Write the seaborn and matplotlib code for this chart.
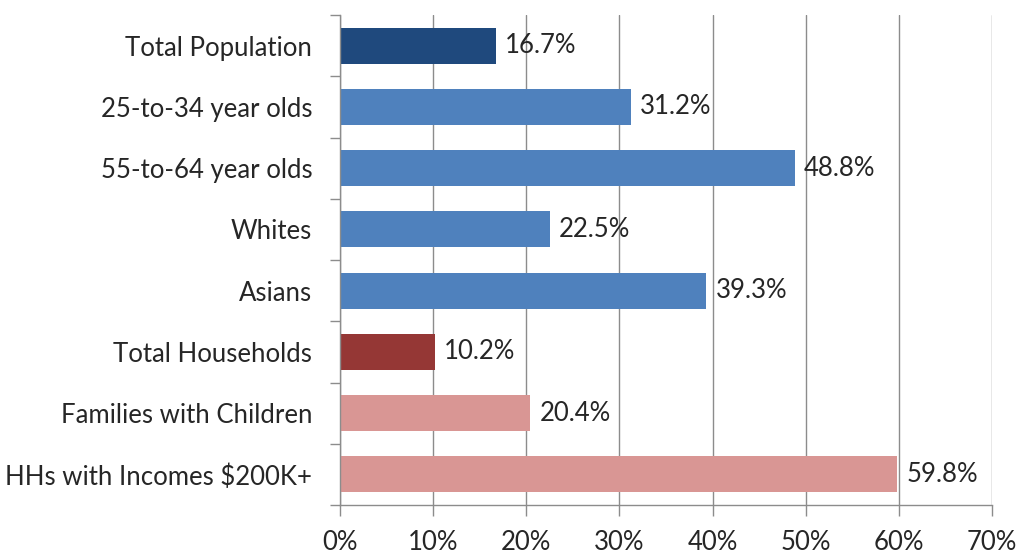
import numpy as np
import pandas as pd
import seaborn as sns
from matplotlib import pyplot as plt
from matplotlib.ticker import FixedLocator

# data
categories = ['Total Population', '25-to-34 year olds', '55-to-64 year olds', 'Whites',
              'Asians', 'Total Households', 'Families with Children', 'HHs with Incomes $200K+']
values = [16.7, 31.2, 48.8, 22.5, 39.3, 10.2, 20.4, 59.8]
colors = ['#1F497D', '#4F81BD', '#4F81BD', '#4F81BD', '#4F81BD', '#953735', '#D99694', '#D99694']
x_ticks = [0, 10, 20, 30, 40, 50, 60, 70]

sns.set_style('white')
plt.rcParams['font.family'] = ['Lato', 'DejaVu Sans']
fs = 18.5
txt = '#262626'

df = pd.DataFrame({'cat': categories, 'val': values})

fig = plt.figure(figsize=(10.19, 5.54), dpi=100)
ax = fig.add_axes([0.3337, 0.0884, 0.6398, 0.8845])

sns.barplot(data=df, x='val', y='cat', hue='cat', palette=colors, legend=False,
            width=0.59, orient='h', ax=ax, saturation=1, linewidth=0)

# value labels
for p, v in zip(ax.patches, values):
    ax.text(p.get_width() + 1.0, p.get_y() + p.get_height() / 2, f'{v}%',
            va='center', ha='left', fontsize=fs, color=txt)

ax.set_xlim(0, 70)
ax.set_ylim(len(categories) - 0.5, -0.5)
ax.set_xticks(x_ticks)
ax.set_xticklabels([f'{t}%' for t in x_ticks])
ax.set_xlabel('')
ax.set_ylabel('')

# gridlines
ax.grid(axis='x', color='#8c8c8c', linewidth=1)
ax.grid(axis='y', visible=False)
ax.set_axisbelow(True)

for s in ['top', 'right']:
    ax.spines[s].set_visible(False)
for s in ['left', 'bottom']:
    ax.spines[s].set_color('#8c8c8c')
    ax.spines[s].set_linewidth(1)

ax.tick_params(axis='x', direction='out', length=8, width=1, color='#8c8c8c',
               pad=10, labelsize=fs, labelcolor=txt, bottom=True)
ax.tick_params(axis='y', which='major', length=0, pad=20, labelsize=fs, labelcolor=txt)
ax.yaxis.set_minor_locator(FixedLocator(np.arange(-0.5, len(categories), 1)))
ax.tick_params(axis='y', which='minor', direction='out', length=7, width=1,
               color='#8c8c8c', left=True)

plt.savefig('out.png', dpi=100)
